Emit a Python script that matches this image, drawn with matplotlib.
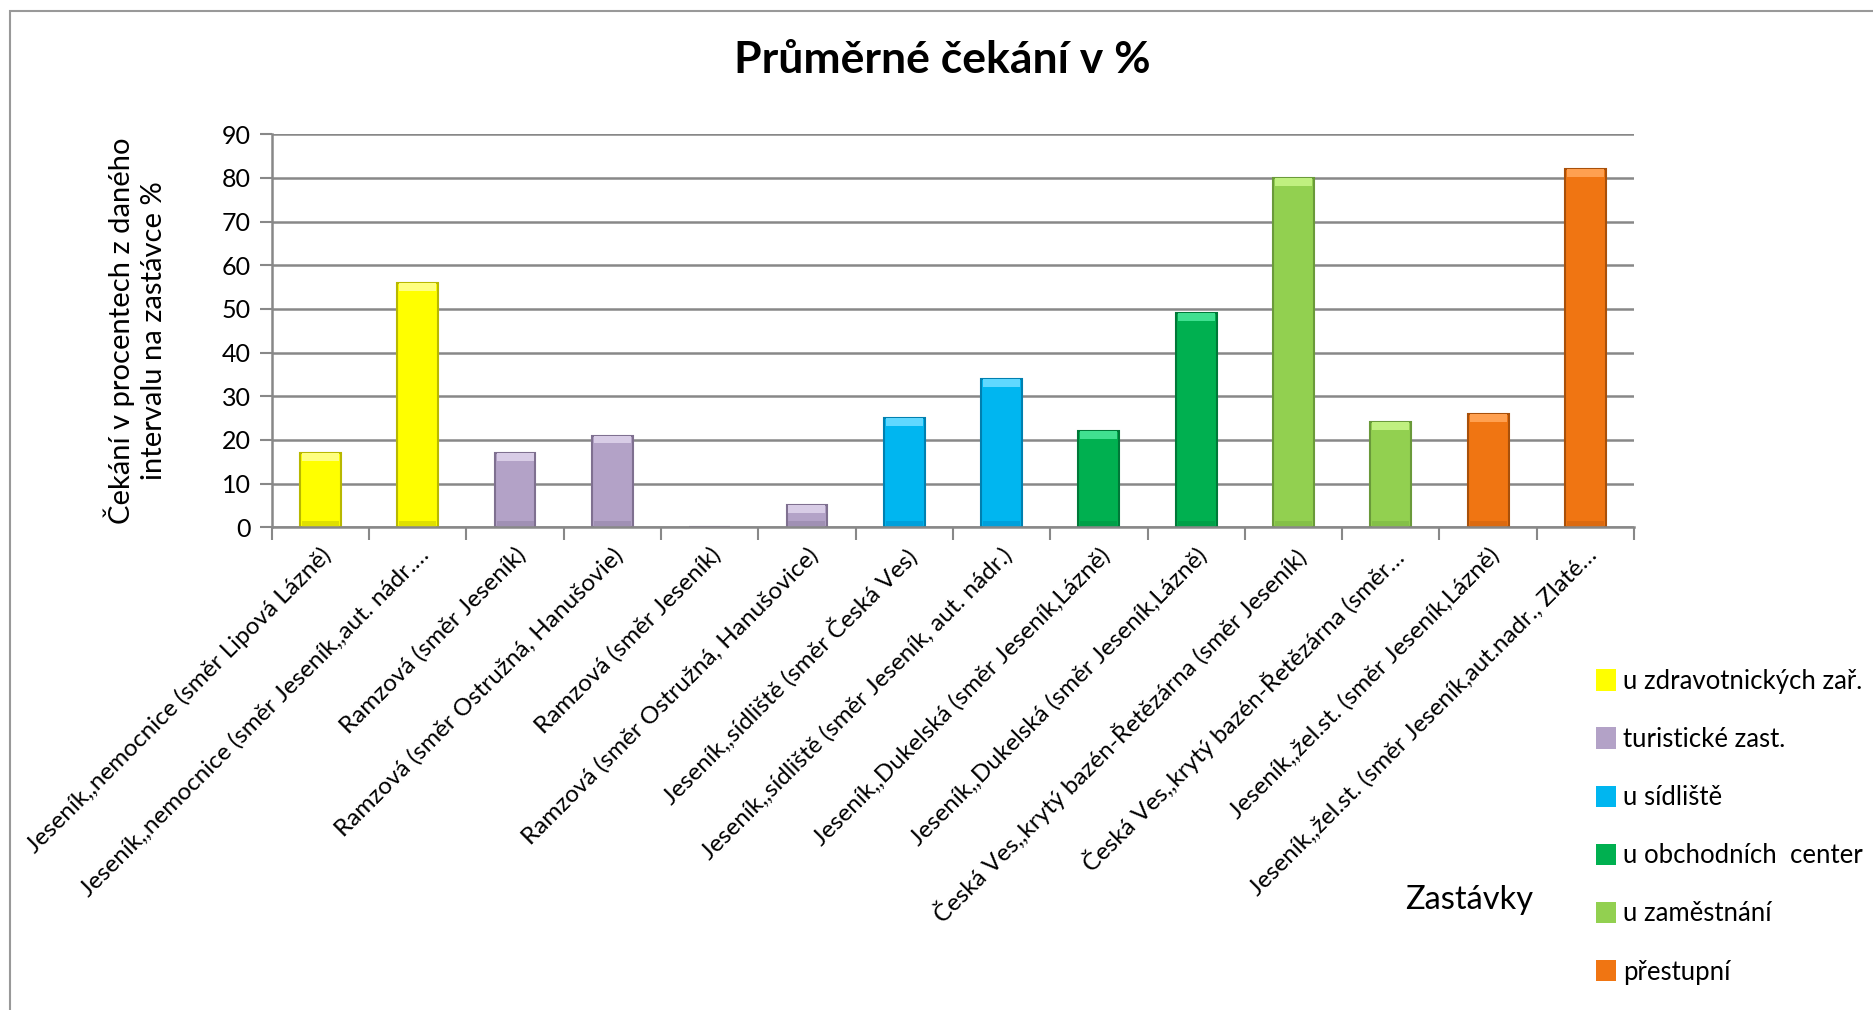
import matplotlib
matplotlib.use("Agg")
import matplotlib.pyplot as plt
from matplotlib.patches import Patch, Rectangle

plt.rcParams['font.family'] = ['Lato', 'DejaVu Sans']

stops = [
    "Jeseník,,nemocnice (směr Lipová Lázně)",
    "Jeseník,,nemocnice (směr Jeseník,,aut. nádr.…",
    "Ramzová (směr Jeseník)",
    "Ramzová (směr Ostružná, Hanušovie)",
    "Ramzová (směr Jeseník)",
    "Ramzová (směr Ostružná, Hanušovice)",
    "Jeseník,,sídliště (směr Česká Ves)",
    "Jeseník,,sídliště (směr Jeseník, aut. nádr.)",
    "Jeseník,,Dukelská (směr Jeseník,Lázně)",
    "Jeseník,,Dukelská (směr Jeseník,Lázně)",
    "Česká Ves,,krytý bazén-Řetězárna (směr Jeseník)",
    "Česká Ves,,krytý bazén-Řetězárna (směr…",
    "Jeseník,,žel.st. (směr Jeseník,Lázně)",
    "Jeseník,,žel.st. (směr Jeseník,aut.nadr., Zlaté…",
]
waiting = [17, 56, 17, 21, 0, 5, 25, 34, 22, 49, 80, 24, 26, 82]
group = [0, 0, 1, 1, 1, 1, 2, 2, 3, 3, 4, 4, 5, 5]

group_names = ["u zdravotnických zař.", "turistické zast.", "u sídliště",
               "u obchodních  center", "u zaměstnání", "přestupní"]
group_colors = ["#FFFF00", "#B3A2C7", "#00B6F0", "#00B050", "#92D050", "#F07512"]
group_edges = ["#B8B800", "#7F7090", "#0080B0", "#007838", "#6A9A3A", "#A8500A"]
group_light = ["#FFFF80", "#D8CCE6", "#60D8FF", "#40E090", "#C0F080", "#FFA050"]
group_dark = ["#E0E000", "#A090B4", "#00A0DC", "#00A048", "#84C048", "#DC6A10"]

fig = plt.figure(figsize=(18.74, 10.10), dpi=100)
ax = fig.add_axes([0.145, 0.478, 0.727, 0.389])

x = list(range(len(stops)))
cols = [group_colors[g] for g in group]
edges = [group_edges[g] for g in group]
ax.bar(x, waiting, width=0.42, color=cols, edgecolor=edges, linewidth=1.5, zorder=2)

# bevel look: lighter cap on top, darker band at the foot
nz = [i for i in x if waiting[i] > 0]
ax.bar(nz, [1.8] * len(nz), bottom=[waiting[i] - 1.8 for i in nz], width=0.38,
       color=[group_light[group[i]] for i in nz], linewidth=0, zorder=2.1)
ax.bar(nz, [1.5] * len(nz), width=0.38,
       color=[group_dark[group[i]] for i in nz], linewidth=0, zorder=2.1)

ax.set_xlim(-0.5, len(stops) - 0.5)
ax.set_ylim(0, 90)
ax.set_yticks(range(0, 91, 10))
ax.yaxis.grid(True, color="#888888", linewidth=1.8, zorder=0)
ax.set_axisbelow(True)

# ticks between categories, labels under the bars
ax.set_xticks([i + 0.5 for i in range(-1, len(stops))], minor=False)
ax.set_xticklabels([])
ax.set_xticks(x, minor=True)
ax.set_xticklabels(stops, minor=True, rotation=45, ha='right', va='top',
                   rotation_mode='anchor', fontsize=17.5)
ax.tick_params(axis='x', which='minor', length=0, pad=12)
ax.tick_params(axis='x', which='major', length=9, color="#888888", width=1.5)
ax.tick_params(axis='y', length=9, color="#888888", width=1.5, labelsize=18, pad=6)

for s in ['top', 'right']:
    ax.spines[s].set_visible(False)
for s in ['left', 'bottom']:
    ax.spines[s].set_color("#888888")
    ax.spines[s].set_linewidth(1.8)
    ax.spines[s].set_zorder(3)

ax.set_ylabel("Čekání v procentech z daného\nintervalu na zastávce %", fontsize=21,
              linespacing=1.3)
ax.yaxis.set_label_coords(-0.077, 0.5)

fig.text(0.503, 0.941, "Průměrné čekání v %", ha='center', va='center',
         fontsize=32, fontweight='bold')
fig.text(0.784, 0.109, "Zastávky", ha='center', va='center', fontsize=23.5)

handles = [Patch(facecolor=c, edgecolor='none') for c in group_colors]
fig.legend(handles, group_names, loc='upper left', bbox_to_anchor=(0.846, 0.348),
           frameon=False, fontsize=18.5, handlelength=0.8, handleheight=0.9,
           handletextpad=0.25, labelspacing=1.29, borderaxespad=0)

fig.patches.append(Rectangle((10 / 1874, -0.1), 1.2, 1.1 - 11 / 1010, transform=fig.transFigure,
                             fill=False, edgecolor="#999999", linewidth=1.5))

fig.savefig("out.png", dpi=100)
